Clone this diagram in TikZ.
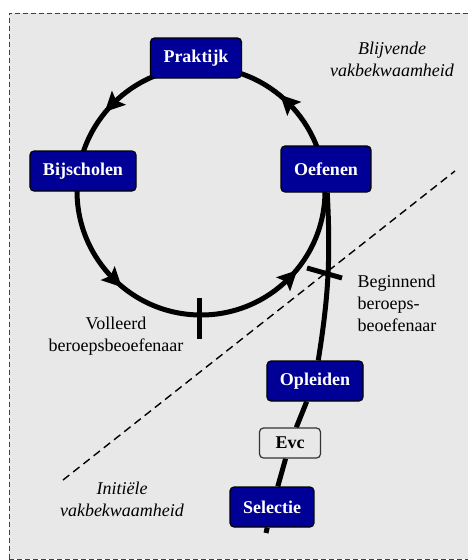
\documentclass[tikz,border=0pt]{standalone}
\usepackage{fontspec}
\setmainfont{Liberation Serif}
\usetikzlibrary{positioning}
\definecolor{stapblauw}{RGB}{0,0,150}
\definecolor{vlak}{RGB}{232,232,232}
\pgfdeclarelayer{ondergrond}
\pgfdeclarelayer{lijnen}
\pgfsetlayers{ondergrond,lijnen,main}
\tikzset{
    stap/.style={draw=black, line width=1.2pt, fill=stapblauw, rounded corners=4pt,
        text=white, font=\fontsize{18}{22}\selectfont\bfseries,
        minimum height=40pt, inner xsep=13pt},
    evcstap/.style={stap, fill=vlak, draw=black!80, text=black, minimum height=30pt, minimum width=61pt},
    label/.style={align=center, font=\fontsize{18}{22}\selectfont},
    lijn/.style={line width=5pt},
}
\begin{document}
\begin{tikzpicture}[x=1pt,y=1pt]
        \useasboundingbox (0,0) rectangle (468,-560);
        \begin{pgfonlayer}{ondergrond}
            \fill[vlak] (9,-13) rectangle (475,-559);
            \draw[black!75, line width=1pt, dash pattern=on 5pt off 3pt] (9,-559) -- (9,-13) -- (475,-13);
            \draw[black!75, line width=1pt, dash pattern=on 5pt off 3pt] (9,-559) -- (475,-559);
        \end{pgfonlayer}

        % stappen
        \node[stap] (praktijk) at (196,-58) {Praktijk};
        \node[stap] (bijscholen) at (83,-171) {Bijscholen};
        \node[stap, minimum height=46pt] (oefenen) at (326,-169) {Oefenen};
        \node[stap] (opleiden) at (315,-381) {Opleiden};
        \node[evcstap] (evc) at (290,-443) {Evc};
        \node[stap] (selectie) at (272,-507) {Selectie};
        \coordinate (begin) at (266,-533);

        % teksten
        \node[label, font=\fontsize{18}{22}\selectfont\itshape] (blijvend) at (392,-59) {Blijvende\\vakbekwaamheid};
        \node[label, font=\fontsize{18}{22}\selectfont\itshape] (initieel) at (122,-499) {Initiële\\vakbekwaamheid};
        \node[label] (volleerd) at (116,-336) {Volleerd\\beroepsbeoefenaar};
        \node[label, align=left, anchor=west] (beginnend) at (354,-303) {Beginnend\\beroeps-\\beoefenaar};

        \begin{pgfonlayer}{lijnen}
            \draw[lijn] (201,-191) circle (124);
            \foreach \hoek in {45,135,225,315}
                \fill[shift={(201,-191)}, rotate=\hoek] (124,12) -- (114,-8) -- (124,-4) -- (134,-8) -- cycle;
            \draw[lijn] (oefenen) to[bend left=6] (opleiden);
            \draw[lijn] (opleiden) -- (evc) -- (selectie) -- (begin);
            \draw[lijn] (199,-298) -- (199,-339);
            \draw[lijn] (307,-268) -- (342,-278);
            \draw[line width=1.4pt, dash pattern=on 8pt off 5pt] (63,-480) -- (455,-171);
        \end{pgfonlayer}
\end{tikzpicture}
\end{document}
